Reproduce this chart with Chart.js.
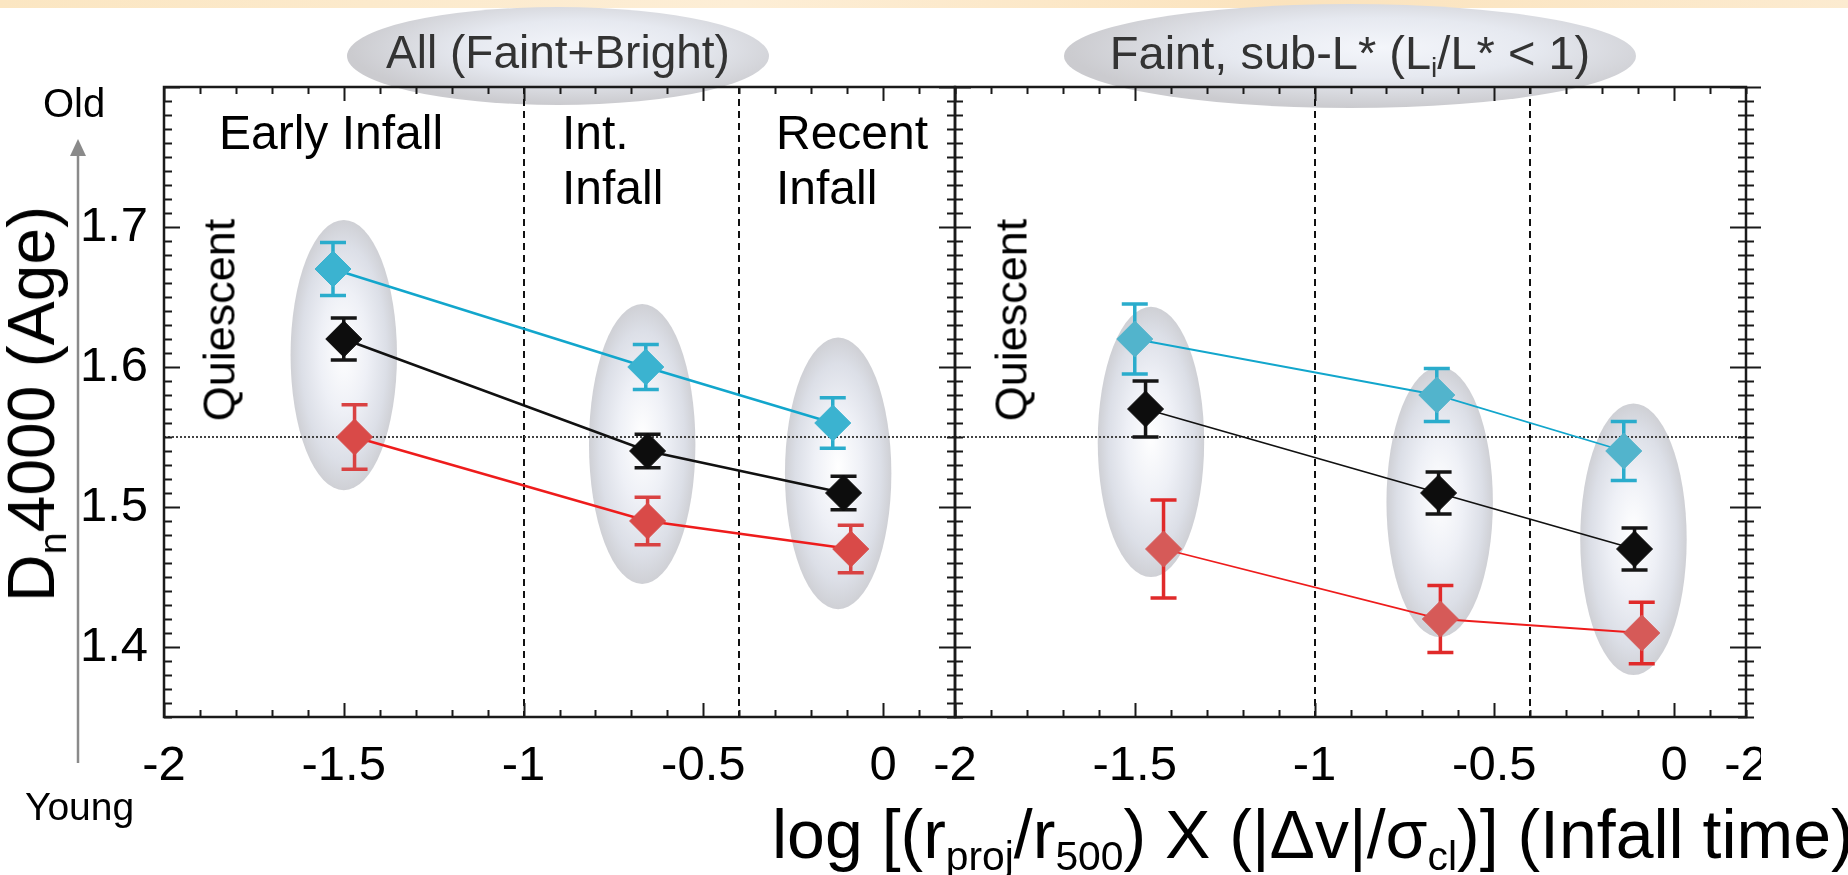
<!DOCTYPE html>
<html>
<head>
<meta charset="utf-8">
<script src="https://cdn.jsdelivr.net/npm/chart.js@4.4.1/dist/chart.umd.min.js"></script>
<style>
  body { margin: 0; width: 1848px; height: 875px; background: #fff; position: relative; overflow: hidden;
         font-family: 'Liberation Sans', Arial, sans-serif; }
  canvas { position: absolute; top: 0; z-index: 1; }
  .t { position: absolute; white-space: nowrap; line-height: 1; z-index: 2; color: #000; }
  .sub { font-size: .6em; position: relative; top: .3em; }
  .bubble { position: absolute; border-radius: 50%; z-index: 0;
            background: radial-gradient(ellipse at 55% 42%, #f4f6fb 0%, #e6e9f0 35%, #cbcbcf 70%); }
  .band { position: absolute; left: 0; top: 0; width: 1848px; height: 8px;
          background: linear-gradient(90deg, #fbe6c2, #fdeed6 40%, #fbe3bd 70%, #fcebd0); }
</style>
</head>
<body>
<div class="band"></div>
<div class="bubble" style="left:347px;top:7px;width:422px;height:98px"></div>
<div class="bubble" style="left:1064px;top:4px;width:572px;height:104px"></div>

<canvas id="all" width="1000" height="875" style="left:0"></canvas>
<canvas id="faint" width="1000" height="875" style="left:791px;clip-path:inset(0 30px 0 0)"></canvas>

<div class="t" style="left:358px;top:29px;width:400px;text-align:center;font-size:46px;color:#333">All (Faint+Bright)</div>
<div class="t" style="left:1100px;top:29px;width:500px;text-align:center;font-size:47px;color:#333">Faint, sub-L* (L<span class="sub">i</span>/L* &lt; 1)</div>

<div class="t" style="left:43px;top:83px;font-size:40px">Old</div>
<div class="t" style="left:25px;top:787px;font-size:39px">Young</div>

<div class="t" style="left:219px;top:109px;font-size:48px">Early Infall</div>
<div class="t" style="left:562px;top:105px;font-size:48px;line-height:55px">Int.<br>Infall</div>
<div class="t" style="left:776px;top:105px;font-size:48px;line-height:55px">Recent<br>Infall</div>

<div class="t" style="left:219px;top:320px;font-size:45px;transform:translate(-50%,-50%) rotate(-90deg)">Quiescent</div>
<div class="t" style="left:1011px;top:320px;font-size:45px;transform:translate(-50%,-50%) rotate(-90deg)">Quiescent</div>

<div class="t" style="left:31px;top:404px;font-size:66px;transform:translate(-50%,-50%) rotate(-90deg)">D<span class="sub">n</span>4000 (Age)</div>
<div class="t" style="left:772px;top:800px;font-size:68px">log [(r<span class="sub">proj</span>/r<span class="sub">500</span>) X (|&Delta;v|/&sigma;<span class="sub">cl</span>)] (Infall time)</div>

<script>
// axis ticks and region boundaries
var xLabelTicks = [-2, -1.5, -1, -0.5, 0];
var yLabelTicks = [1.4, 1.5, 1.6, 1.7];
var infallBounds = [-1, -0.4];
var quiescentLimit = 1.55;

// All (Faint+Bright)
var allBlueX = [-1.53, -0.66, -0.14];
var allBlueY = [1.67, 1.60, 1.56];
var allBlueErr = [0.019, 0.016, 0.018];
var allBlackX = [-1.50, -0.655, -0.11];
var allBlackY = [1.62, 1.54, 1.51];
var allBlackErr = [0.015, 0.012, 0.012];
var allRedX = [-1.47, -0.655, -0.09];
var allRedY = [1.55, 1.49, 1.47];
var allRedErr = [0.023, 0.017, 0.017];

// Faint, sub-L*
var faintBlueX = [-1.50, -0.66, -0.14];
var faintBlueY = [1.62, 1.58, 1.54];
var faintBlueErr = [0.025, 0.019, 0.021];
var faintBlackX = [-1.47, -0.655, -0.11];
var faintBlackY = [1.57, 1.51, 1.47];
var faintBlackErr = [0.020, 0.015, 0.015];
var faintRedX = [-1.42, -0.65, -0.09];
var faintRedY = [1.47, 1.42, 1.41];
var faintRedErr = [0.035, 0.024, 0.022];

// shaded groups (centre, top, bottom)
var allGroupX = [-1.50, -0.67, -0.125];
var allGroupTop = [1.705, 1.645, 1.621];
var allGroupBottom = [1.512, 1.445, 1.427];
var faintGroupX = [-1.455, -0.652, -0.113];
var faintGroupTop = [1.643, 1.600, 1.574];
var faintGroupBottom = [1.450, 1.407, 1.380];
var groupHalfWidth = 0.148;

var fontFamily = "'Liberation Sans', Arial, sans-serif";

function points(xs, ys) {
  return xs.map(function (x, i) { return { x: x, y: ys[i] }; });
}

function series(label, xs, ys, errs, lineColor, fill, errColor, width) {
  return {
    label: label,
    data: points(xs, ys),
    errors: errs,
    errColor: errColor,
    showLine: true,
    borderColor: lineColor,
    borderWidth: width,
    pointStyle: 'rectRot',
    pointRadius: 18,
    pointHoverRadius: 18,
    pointBackgroundColor: fill,
    pointBorderColor: fill,
    pointBorderWidth: 1
  };
}

var panelPlugin = {
  id: 'panel',
  beforeDatasetsDraw: function (chart, args, opts) {
    var ctx = chart.ctx, ca = chart.chartArea;
    var xs = chart.scales.x, ys = chart.scales.y;
    ctx.save();

    // shaded ellipses behind each group of points
    opts.groupX.forEach(function (gx, i) {
      var cx = xs.getPixelForValue(gx);
      var rx = xs.getPixelForValue(gx + groupHalfWidth) - cx;
      var y1 = ys.getPixelForValue(opts.groupTop[i]);
      var y2 = ys.getPixelForValue(opts.groupBottom[i]);
      var cy = (y1 + y2) / 2, ry = (y2 - y1) / 2;
      ctx.save();
      ctx.translate(cx, cy);
      ctx.scale(rx / ry, 1);
      var g = ctx.createRadialGradient(0, -ry * 0.05, 0, 0, 0, ry);
      g.addColorStop(0, '#ffffff');
      g.addColorStop(0.45, '#eef0f6');
      g.addColorStop(0.8, '#dcdfe7');
      g.addColorStop(1, '#cfd0d5');
      ctx.fillStyle = g;
      ctx.beginPath();
      ctx.arc(0, 0, ry, 0, Math.PI * 2);
      ctx.fill();
      ctx.restore();
    });

    // infall boundaries
    ctx.strokeStyle = '#111';
    ctx.lineWidth = 2;
    ctx.setLineDash([7, 5]);
    infallBounds.forEach(function (b) {
      var px = Math.round(xs.getPixelForValue(b));
      ctx.beginPath();
      ctx.moveTo(px, ca.top);
      ctx.lineTo(px, ca.bottom);
      ctx.stroke();
    });

    // quiescent threshold
    ctx.strokeStyle = '#444';
    ctx.setLineDash([2, 2]);
    var qy = Math.round(ys.getPixelForValue(quiescentLimit));
    ctx.beginPath();
    ctx.moveTo(ca.left, qy);
    ctx.lineTo(ca.right, qy);
    ctx.stroke();

    // error bars
    ctx.setLineDash([]);
    ctx.lineWidth = 3.5;
    chart.data.datasets.forEach(function (ds, di) {
      var meta = chart.getDatasetMeta(di);
      ctx.strokeStyle = ds.errColor;
      meta.data.forEach(function (pt, j) {
        var v = ds.data[j].y, e = ds.errors[j];
        var yt = ys.getPixelForValue(v + e), yb = ys.getPixelForValue(v - e);
        ctx.beginPath();
        ctx.moveTo(pt.x, yt); ctx.lineTo(pt.x, yb);
        ctx.moveTo(pt.x - 13, yt); ctx.lineTo(pt.x + 13, yt);
        ctx.moveTo(pt.x - 13, yb); ctx.lineTo(pt.x + 13, yb);
        ctx.stroke();
      });
    });
    ctx.restore();
  },
  afterDraw: function (chart, args, opts) {
    var ctx = chart.ctx, ca = chart.chartArea;
    var xs = chart.scales.x, ys = chart.scales.y;
    ctx.save();
    ctx.strokeStyle = '#1a1a1a';
    ctx.lineWidth = 2.5;
    ctx.strokeRect(ca.left, ca.top, ca.right - ca.left, ca.bottom - ca.top);

    ctx.lineWidth = 2;
    ctx.beginPath();
    // x ticks every 0.1, longer at every 0.5
    for (var i = 0; i <= 22; i++) {
      var v = -2 + i * 0.1;
      var major = Math.abs(v * 2 - Math.round(v * 2)) < 1e-6;
      var len = major ? 14 : 7;
      var px = Math.round(xs.getPixelForValue(v)) + 0.5;
      ctx.moveTo(px, ca.bottom); ctx.lineTo(px, ca.bottom - len);
      ctx.moveTo(px, ca.top); ctx.lineTo(px, ca.top + len);
    }
    // y ticks every 0.01, longer at every 0.1
    for (var k = 0; k <= 45; k++) {
      var yv = 1.35 + k * 0.01;
      var ymajor = Math.abs(yv * 10 - Math.round(yv * 10)) < 1e-6;
      var ylen = ymajor ? 16 : 8;
      var py = Math.round(ys.getPixelForValue(yv)) + 0.5;
      ctx.moveTo(ca.left, py); ctx.lineTo(ca.left + ylen, py);
      ctx.moveTo(ca.right - ylen, py);
      ctx.lineTo(opts.outerTicks ? ca.right + ylen : ca.right, py);
    }
    ctx.stroke();

    // age arrow on the far left
    if (opts.arrow) {
      ctx.strokeStyle = '#8a8a8a';
      ctx.fillStyle = '#8a8a8a';
      ctx.lineWidth = 2.5;
      ctx.beginPath();
      ctx.moveTo(78, 763); ctx.lineTo(78, 152);
      ctx.stroke();
      ctx.beginPath();
      ctx.moveTo(78, 139); ctx.lineTo(70, 156); ctx.lineTo(86, 156);
      ctx.closePath();
      ctx.fill();
    }
    ctx.restore();
  }
};

function makePanel(id, datasets, groupX, groupTop, groupBottom, xTicks, showY, last) {
  return new Chart(document.getElementById(id), {
    type: 'scatter',
    data: { datasets: datasets },
    options: {
      responsive: false,
      animation: false,
      events: [],
      layout: { padding: { top: 87, right: 45, left: 0, bottom: 0 } },
      plugins: {
        legend: { display: false },
        tooltip: { enabled: false },
        panel: { groupX: groupX, groupTop: groupTop, groupBottom: groupBottom, outerTicks: last, arrow: showY }
      },
      scales: {
        x: {
          type: 'linear', min: -2, max: 0.2,
          afterBuildTicks: function (s) { s.ticks = xTicks.map(function (v) { return { value: v }; }); },
          afterFit: function (s) { s.height = 158; },
          grid: { display: false, drawTicks: false },
          border: { display: false },
          ticks: {
            autoSkip: false, maxRotation: 0, padding: 20, color: '#000',
            font: { family: fontFamily, size: 49 },
            callback: function (v) { return v > 0.1 ? '-2' : String(v); }
          }
        },
        y: {
          type: 'linear', min: 1.35, max: 1.8,
          afterBuildTicks: function (s) { s.ticks = yLabelTicks.map(function (v) { return { value: v }; }); },
          afterFit: function (s) { s.width = 164; },
          grid: { display: false, drawTicks: false },
          border: { display: false },
          ticks: {
            display: showY, padding: 16, color: '#000',
            font: { family: fontFamily, size: 49 },
            callback: function (v) { return v.toFixed(1); }
          }
        }
      }
    },
    plugins: [panelPlugin]
  });
}

makePanel('all', [
  series('Blue', allBlueX, allBlueY, allBlueErr, '#12a6cc', '#3bb3d0', '#2aaccc', 2.5),
  series('All', allBlackX, allBlackY, allBlackErr, '#111111', '#0d0d0d', '#151515', 2.5),
  series('Red', allRedX, allRedY, allRedErr, '#ee1c1c', '#d94a48', '#d94242', 2.5)
], allGroupX, allGroupTop, allGroupBottom, xLabelTicks, true, false);

makePanel('faint', [
  series('Blue', faintBlueX, faintBlueY, faintBlueErr, '#12a6cc', '#52b4cc', '#2aaccc', 1.8),
  series('All', faintBlackX, faintBlackY, faintBlackErr, '#111111', '#0d0d0d', '#151515', 1.8),
  series('Red', faintRedX, faintRedY, faintRedErr, '#ee1c1c', '#d65a58', '#e02a2a', 1.8)
], faintGroupX, faintGroupTop, faintGroupBottom, xLabelTicks.concat([0.2]), false, true);
</script>
</body>
</html>
